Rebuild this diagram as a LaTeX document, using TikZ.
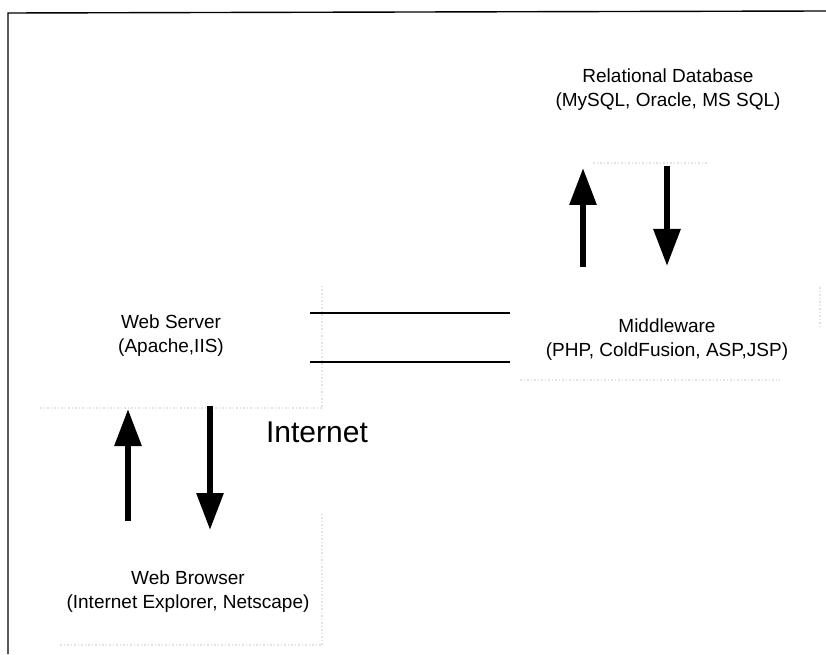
\documentclass[tikz,border=0pt]{standalone}
\usepackage{fontspec}
\setmainfont{Liberation Sans}
\usetikzlibrary{arrows.meta}

\begin{document}
\begin{tikzpicture}[x=1pt, y=1pt,
    tier/.style={align=center, font=\fontsize{19pt}{24pt}\selectfont, inner sep=0pt},
    bigarrow/.style={line width=6pt, -{Triangle[length=37pt, width=26pt]}},
    faint/.style={gray!22, dotted, line width=1.5pt}]
    \useasboundingbox (0,0) rectangle (826,654);

    % Frame
    \draw[line width=1.4pt] (8,0) -- (8,641) -- (826,643);

    % Faint box edges from the scan
    \draw[faint] (40,246) -- (322,246) -- (322,369);
    \draw[faint] (60,9) -- (322,9) -- (322,141);
    \draw[faint] (520,274) -- (780,274);
    \draw[faint] (820,367) -- (820,327);
    \draw[faint] (593,491) -- (707,491);

    % Tiers
    \node[tier] (db) at (668,564) {Relational Database\\(MySQL, Oracle, MS SQL)};
    \node[tier] (mw) at (667,314) {Middleware\\(PHP, ColdFusion, ASP,JSP)};
    \node[tier] (ws) at (171,318) {Web Server\\(Apache,IIS)};
    \node[tier] (wb) at (188,62) {Web Browser\\(Internet Explorer, Netscape)};
    \node[font=\fontsize{30pt}{36pt}\selectfont] (net) at (317,222) {Internet};

    % Arrow ends
    \coordinate (mwup) at (583,387);
    \coordinate (dbup) at (583,486);
    \coordinate (dbdown) at (667,488);
    \coordinate (mwdown) at (667,388);
    \coordinate (wbup) at (128,133);
    \coordinate (wsup) at (128,245);
    \coordinate (wsdown) at (210,248);
    \coordinate (wbdown) at (210,124);

    % Requests and replies
    \draw[bigarrow] (mwup) -- (dbup);
    \draw[bigarrow] (dbdown) -- (mwdown);
    \draw[bigarrow] (wbup) -- (wsup);
    \draw[bigarrow] (wsdown) -- (wbdown);

    % Link between web server and middleware
    \coordinate (wsa) at (310,341);
    \coordinate (mwa) at (510,341);
    \coordinate (wsb) at (310,292);
    \coordinate (mwb) at (510,292);
    \draw[line width=1.8pt] (wsa) -- (mwa);
    \draw[line width=1.8pt] (wsb) -- (mwb);
\end{tikzpicture}
\end{document}
